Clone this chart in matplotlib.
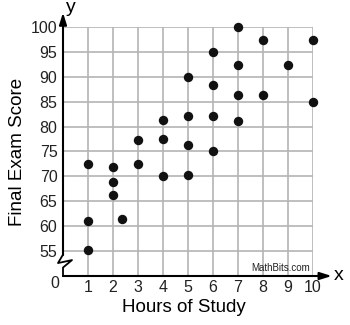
import matplotlib
matplotlib.use("Agg")
import matplotlib.pyplot as plt
from matplotlib.lines import Line2D

plt.rcParams['font.family'] = ['Liberation Sans', 'DejaVu Sans']

hours = [1, 1, 1, 2, 2, 2, 2.35, 3, 3, 4, 4, 4, 5, 5, 5, 5,
         6, 6, 6, 6, 7, 7, 7, 7, 8, 8, 9, 10, 10]
scores = [72.4, 61.1, 55.3, 71.9, 68.9, 66.2, 61.5, 77.3, 72.4, 81.3, 77.5, 70.0,
          90.0, 82.1, 76.3, 70.2, 95.0, 88.3, 82.1, 75.0, 100.0, 92.3, 86.3, 81.2,
          97.3, 86.3, 92.3, 97.3, 85.0]
x_ticks = [1, 2, 3, 4, 5, 6, 7, 8, 9, 10]
y_ticks = [55, 60, 65, 70, 75, 80, 85, 90, 95, 100]
x_title = "Hours of Study"
y_title = "Final Exam Score"
credit = "MathBits.com"

W, H = 350, 325
fig = plt.figure(figsize=(W / 100, H / 100), dpi=100)
# axes: x=0 at px 63, x=10 at px 313; y=50 at px 276, y=100 at px 27
ax = fig.add_axes([63 / W, (H - 276) / H, 250 / W, 249 / H])
ax.set_xlim(0, 10)
ax.set_ylim(50, 100)
for s in ax.spines.values():
    s.set_visible(False)
ax.patch.set_visible(False)

grid_c = '#b4b4b4'
ax.vlines(x_ticks, 50, 100, colors=grid_c, lw=1.2, zorder=1)
ax.hlines(y_ticks, 0, 10, colors=grid_c, lw=1.2, zorder=1)

# axes with arrows
ax.annotate('', xy=(10.75, 50), xytext=(0, 50),
            arrowprops=dict(arrowstyle='-|>,head_length=0.7,head_width=0.22', color='black', lw=1.5,
                            shrinkA=0, shrinkB=0), annotation_clip=False, zorder=3)
ax.annotate('', xy=(0, 102.9), xytext=(0, 54.2),
            arrowprops=dict(arrowstyle='-|>,head_length=0.7,head_width=0.22', color='black', lw=1.5,
                            shrinkA=0, shrinkB=0), annotation_clip=False, zorder=3)
# axis break zigzag
ax.add_line(Line2D([0, -0.2, 0.36, 0, 0], [54.3, 52.6, 53.2, 51.7, 50],
                   color='black', lw=1.3, clip_on=False, zorder=3))

ax.scatter(hours, scores, s=46, color='#111111', zorder=4, clip_on=False, linewidths=0)

ax.set_xticks(x_ticks)
ax.set_yticks(y_ticks)
ax.set_xticklabels([str(v) for v in x_ticks])
ax.set_yticklabels([str(v) for v in y_ticks])
ax.tick_params(length=0, labelsize=11.5, colors='#222222')
ax.tick_params(axis='y', pad=4)
ax.tick_params(axis='x', pad=3)

def px(x, y):
    return x / W, 1 - y / H

fig.text(*px(55, 284), '0', fontsize=11.5, color='#222222', ha='center', va='center')
fig.text(*px(71, 8), 'y', fontsize=14, ha='center', va='center')
fig.text(*px(339, 276), 'x', fontsize=14, ha='center', va='center')
fig.text(*px(184, 307), x_title, fontsize=13.5, ha='center', va='center')
fig.text(*px(18, 152), y_title, fontsize=13.5, ha='center', va='center', rotation=90)
fig.text(*px(281, 268), credit, fontsize=7, ha='center', va='center', color='#222222')

fig.savefig('out.png', dpi=100)
